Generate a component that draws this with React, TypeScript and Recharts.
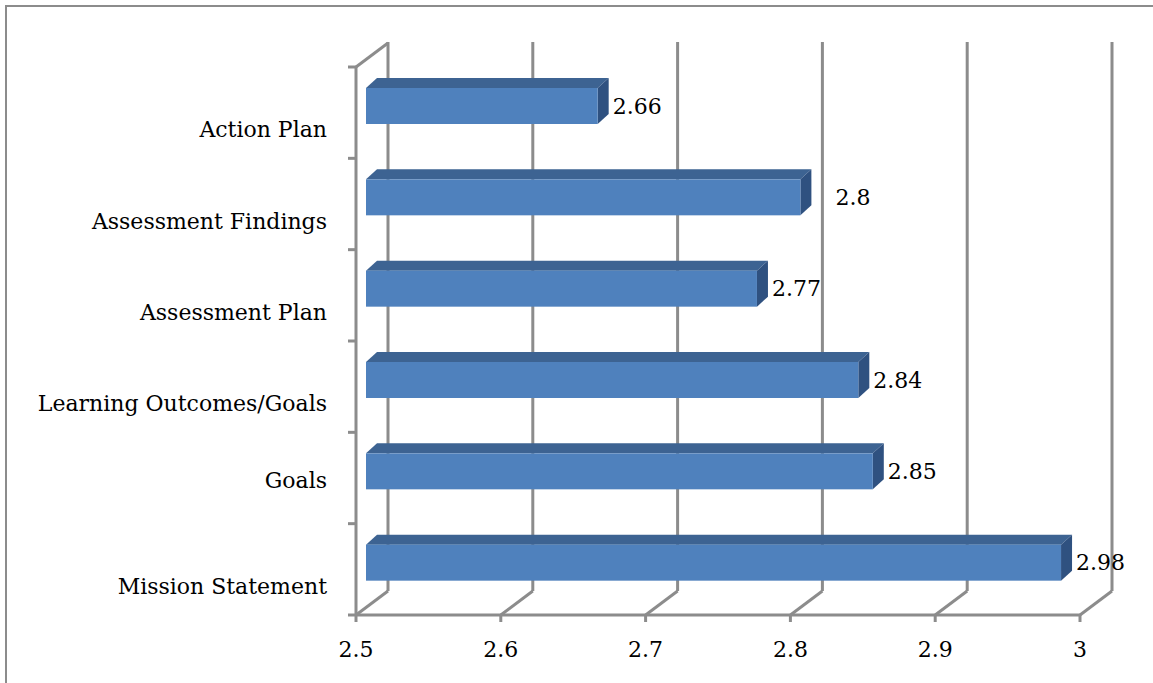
import React from 'react';
import { BarChart, Bar, XAxis, YAxis, CartesianGrid, LabelList } from 'recharts';

// categories top to bottom, as in the source chart
const categories = [
    'Action Plan',
    'Assessment Findings',
    'Assessment Plan',
    'Learning Outcomes/Goals',
    'Goals',
    'Mission Statement'
];
const scores = [2.66, 2.8, 2.77, 2.84, 2.85, 2.98];
const xTicks = [2.5, 2.6, 2.7, 2.8, 2.9, 3];

const chartData = categories.map((name, i) => ({ name, value: scores[i] }));

// geometry of the fake 3D box
const W = 1153;
const H = 683;
const PLOT_LEFT = 356;
const PLOT_RIGHT = 1080;
const PLOT_TOP = 67;
const PLOT_BOTTOM = 615;
const DEPTH_X = 32;
const DEPTH_Y = 24;
const BAND = (PLOT_BOTTOM - PLOT_TOP) / categories.length;

const BAR_SIZE = 36;
const BAR_DX = 10;
const BAR_DY = -7;
const BAR_DEPTH_X = 11;
const BAR_DEPTH_Y = 10;

const GRID = '#8c8c8c';
const LINE_W = 3;
const FONT = '"DejaVu Serif", serif';

// label quirks copied from the original (Excel placed these a bit off)
const valueLabelNudge: Record<string, number> = { 'Assessment Findings': 20 };
const catLabelNudge: Record<string, number> = { Goals: -15 };

const Bar3D = (props: any) => {
    const { x, y, width } = props;
    const fx = x + BAR_DX;
    const fy = y + BAR_DY;
    const ex = fx + width;
    return (
        <g>
            <polygon
                points={`${fx},${fy} ${fx + BAR_DEPTH_X},${fy - BAR_DEPTH_Y} ${ex + BAR_DEPTH_X},${fy - BAR_DEPTH_Y} ${ex},${fy}`}
                fill="#3d6392"
            />
            <polygon
                points={`${ex},${fy} ${ex + BAR_DEPTH_X},${fy - BAR_DEPTH_Y} ${ex + BAR_DEPTH_X},${fy - BAR_DEPTH_Y + BAR_SIZE} ${ex},${fy + BAR_SIZE}`}
                fill="#2f5180"
            />
            <rect x={fx} y={fy} width={width} height={BAR_SIZE} fill="#4f81bd" />
        </g>
    );
};

const ValueLabel = (props: any) => {
    const { x, y, width, index, value } = props;
    const nudge = valueLabelNudge[categories[index]] || 0;
    return (
        <text
            x={x + width + BAR_DX + BAR_DEPTH_X + 4 + nudge}
            y={y + BAR_DY + BAR_SIZE / 2}
            dominantBaseline="central"
            fontFamily={FONT}
            fontSize={22}
            fill="#000"
        >
            {value}
        </text>
    );
};

const CategoryTick = (props: any) => {
    const { y, payload, index } = props;
    const top = y - BAND / 2;
    const nudge = catLabelNudge[payload.value] || 0;
    return (
        <g>
            <line x1={PLOT_LEFT - 8} x2={PLOT_LEFT} y1={top} y2={top} stroke={GRID} strokeWidth={LINE_W} />
            {index === categories.length - 1 && (
                <line x1={PLOT_LEFT - 8} x2={PLOT_LEFT} y1={y + BAND / 2} y2={y + BAND / 2} stroke={GRID} strokeWidth={LINE_W} />
            )}
            {index === 0 && (
                <line x1={PLOT_LEFT} y1={top} x2={PLOT_LEFT + DEPTH_X} y2={top - DEPTH_Y} stroke={GRID} strokeWidth={LINE_W} />
            )}
            <text
                x={327}
                y={y + 17 + nudge}
                textAnchor="end"
                dominantBaseline="central"
                fontFamily={FONT}
                fontSize={22}
                fill="#000"
            >
                {payload.value}
            </text>
        </g>
    );
};

const ValueTick = (props: any) => {
    const { x, payload } = props;
    return (
        <text x={x} y={657} textAnchor="middle" fontFamily={FONT} fontSize={22} fill="#000">
            {payload.value}
        </text>
    );
};

// back wall line + floor diagonal for every x tick
const GridLine3D = (p: any) => {
    const x = p.x1;
    return (
        <g key={p.key}>
            <line x1={x + DEPTH_X} y1={PLOT_TOP - DEPTH_Y - 1} x2={x + DEPTH_X} y2={PLOT_BOTTOM - DEPTH_Y} stroke={GRID} strokeWidth={LINE_W} />
            <line x1={x} y1={PLOT_BOTTOM} x2={x + DEPTH_X} y2={PLOT_BOTTOM - DEPTH_Y} stroke={GRID} strokeWidth={LINE_W} />
        </g>
    );
};

export default function App() {
    return (
        <div style={{ position: 'absolute', left: 0, top: 0, width: W, height: H, overflow: 'hidden', background: '#fff' }}>
            <div
                style={{
                    position: 'absolute',
                    left: 5,
                    top: 5,
                    width: W + 20,
                    height: H + 20,
                    borderTop: `2px solid ${GRID}`,
                    borderLeft: `2px solid ${GRID}`
                }}
            />
            <div style={{ position: 'absolute', left: 0, top: 0 }}>
                <BarChart
                    width={W}
                    height={H}
                    data={chartData}
                    layout="vertical"
                    margin={{ top: PLOT_TOP, right: W - PLOT_RIGHT, bottom: 0, left: 0 }}
                >
                    <CartesianGrid horizontal={false} vertical={GridLine3D} />
                    <XAxis
                        type="number"
                        domain={[2.5, 3]}
                        ticks={xTicks}
                        height={H - PLOT_BOTTOM}
                        axisLine={{ stroke: GRID, strokeWidth: LINE_W }}
                        tickLine={{ stroke: GRID, strokeWidth: LINE_W }}
                        tickSize={7}
                        tick={<ValueTick />}
                        allowDataOverflow
                    />
                    <YAxis
                        type="category"
                        dataKey="name"
                        width={PLOT_LEFT}
                        axisLine={{ stroke: GRID, strokeWidth: LINE_W }}
                        tickLine={false}
                        tick={<CategoryTick />}
                        interval={0}
                    />
                    <Bar dataKey="value" barSize={BAR_SIZE} shape={<Bar3D />} isAnimationActive={false}>
                        <LabelList dataKey="value" content={<ValueLabel />} />
                    </Bar>
                </BarChart>
            </div>
        </div>
    );
}
